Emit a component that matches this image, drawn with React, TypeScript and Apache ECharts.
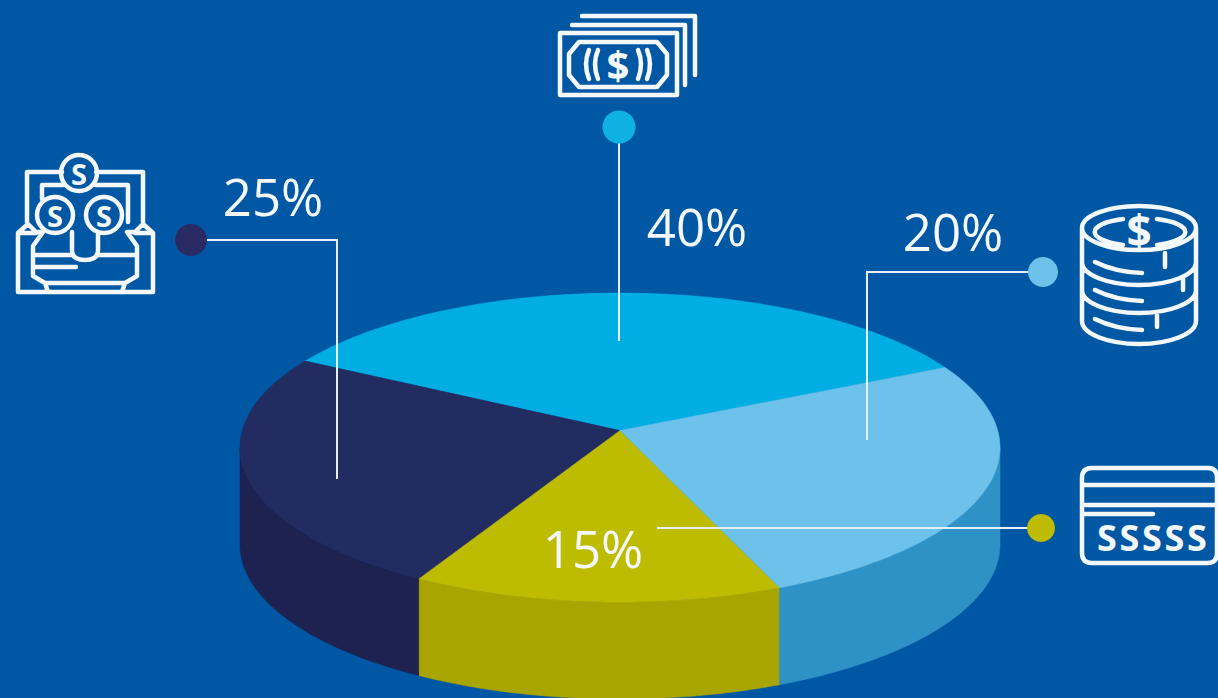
import React, { useEffect, useRef } from "react";
import * as echarts from "echarts";

// Percentages printed on the chart
const categories = ["Banknotes", "Treasure", "Card", "Coins"];
const labelTexts = ["40%", "25%", "15%", "20%"];
// Share of the disc each wedge occupies as drawn, percent
const drawnShares = [35, 24.9, 14.25, 25.85];
const startAngle = 25.5;

const topColors = ["#00AEE3", "#232C60", "#BEBC00", "#6CC2EA"];
const sideColors = ["#0090C0", "#1D2250", "#A9A500", "#2E92C6"];
const dotColors = ["#0FB0E2", "#2A2A64", "#BEBC00", "#6CC2EA"];

const BG = "#0058A4";
const WHITE = "#F4F8FC";
const FONT = '"Open Sans", sans-serif';

// Disc geometry
const CX = 620, CY = 447.5, RX = 380, RY = 154.5, DEPTH = 97, APEX = 0.11;

const rimAngle = (deg: number) => {
  const t = (deg * Math.PI) / 180;
  const dx = Math.cos(t), dy = Math.sin(t);
  const b = APEX * dy;
  const s = -b + Math.sqrt(b * b - APEX * APEX + 1);
  let phi = Math.atan2(APEX + s * dy, s * dx);
  while (phi < t - Math.PI) phi += Math.PI * 2;
  while (phi > t + Math.PI) phi -= Math.PI * 2;
  return phi;
};
const rimPoint = (phi: number, drop = 0): [number, number] => [
  CX + RX * Math.cos(phi),
  CY - RY * Math.sin(phi) + drop,
];

let acc = 0;
const sliceData = drawnShares.map((share, i) => {
  const item = { value: [acc, share], name: categories[i] };
  acc += share;
  return item;
});

const renderItem = (params: any, api: any) => {
  const i = params.dataIndex;
  const a0 = startAngle + (api.value(0) * 360) / 100;
  const a1 = a0 + (api.value(1) * 360) / 100;
  const p0 = rimAngle(a0);
  let p1 = rimAngle(a1);
  if (p1 < p0) p1 += Math.PI * 2;
  const toPx = (p: [number, number]) => api.coord(p);
  const N = 90;
  const rim: [number, number][] = [];
  for (let k = 0; k <= N; k++) rim.push(rimPoint(p0 + ((p1 - p0) * k) / N));
  const top = [[CX, CY - APEX * RY] as [number, number], ...rim].map(toPx);

  const children: any[] = [];
  const bands = [
    [Math.PI, 2 * Math.PI],
    [3 * Math.PI, 4 * Math.PI],
  ];
  bands.forEach(([lo, hi]) => {
    const w0 = Math.max(lo, p0), w1 = Math.min(hi, p1);
    if (w1 <= w0) return;
    const upper: [number, number][] = [];
    const lower: [number, number][] = [];
    for (let k = 0; k <= N; k++) {
      const phi = w0 + ((w1 - w0) * k) / N;
      upper.push(rimPoint(phi));
      lower.unshift(rimPoint(phi, DEPTH));
    }
    children.push({
      type: "polygon",
      shape: { points: [...upper, ...lower].map(toPx) },
      style: { fill: sideColors[i], stroke: sideColors[i], lineWidth: 0.5 },
    });
  });
  children.push({
    type: "polygon",
    shape: { points: top },
    style: { fill: topColors[i], stroke: topColors[i], lineWidth: 0.5 },
  });
  return { type: "group", children };
};

// Icons
const circle = (x: number, y: number, r: number) =>
  `M${x - r} ${y}a${r} ${r} 0 1 0 ${2 * r} 0a${r} ${r} 0 1 0 ${-2 * r} 0`;

const chestPath = [
  "M27 222V172H62M96 172H143V222",
  "M42 199V185H63M95 185H128V222",
  circle(79, 173, 18),
  circle(55, 215, 18),
  circle(104, 215, 18),
  "M18 292V233L28 224L36 232H43L33 246V276L45 283H125L137 276V246L127 232H135L143 224L153 233V292Z",
  "M18 233H36M135 233H153",
  "M72 232V250Q72 260 85 260Q98 260 98 250V232",
  "M34 255H72M98 255H136",
  "M34 267H76",
  "M45 283L48 292M125 283L122 292",
].join("");
const moneyPath = [
  "M560 33H677V95H560Z",
  "M579 42H657L667 54V75L657 87H579L569 75V54Z",
  "M572 25H685V85",
  "M582 16H695V75",
  "M589 50Q583 64 589 79M598 50Q592 64 598 79",
  "M638 50Q644 64 638 79M647 50Q653 64 647 79",
].join("");
const coinPath = [
  "M1082 228a57 22 0 1 0 114 0a57 22 0 1 0 -114 0",
  "M1082 228V321a57 23 0 0 0 114 0V228",
  "M1082 262a57 23 0 0 0 114 0",
  "M1082 290a57 23 0 0 0 114 0",
  "M1123 219A45 14 0 0 0 1123 245",
  "M1157 219A45 14 0 0 1 1157 245",
  "M1095 262Q1115 272 1142 273",
  "M1095 290Q1115 300 1142 301",
  "M1095 319Q1115 329 1142 330",
  "M1165 253V267M1183 278V290M1157 315V327",
].join("");
const cardPath = [
  "M1092 468H1208Q1217 468 1217 478V553Q1217 563 1208 563H1092Q1082 563 1082 553V478Q1082 468 1092 468Z",
  "M1082 485H1217M1082 505H1217M1082 514H1153",
].join("");

echarts.graphic.registerShape("chestIcon", echarts.graphic.extendPath(chestPath, {}));
echarts.graphic.registerShape("moneyIcon", echarts.graphic.extendPath(moneyPath, {}));
echarts.graphic.registerShape("coinIcon", echarts.graphic.extendPath(coinPath, {}));
echarts.graphic.registerShape("cardIcon", echarts.graphic.extendPath(cardPath, {}));

const icon = (type: string, lineWidth: number) => ({
  type,
  x: 0,
  y: 0,
  z: 10,
  style: { fill: "none", stroke: WHITE, lineWidth, lineJoin: "round", lineCap: "round" },
});
const txt = (text: string, x: number, y: number, size: number, weight = 400, fill = WHITE) => ({
  type: "text",
  x,
  y,
  z: 11,
  style: {
    text,
    fill,
    font: `${weight} ${size}px ${FONT}`,
    textAlign: "center",
    textVerticalAlign: "middle",
  },
});
const leader = (points: number[][]) => ({
  type: "polyline",
  z: 10,
  shape: { points },
  style: { fill: "none", stroke: "#E6EEF6", lineWidth: 2 },
});
const dot = (x: number, y: number, r: number, fill: string) => ({
  type: "circle",
  z: 10,
  shape: { cx: x, cy: y, r },
  style: { fill },
});

const cardLetterCenters = [1107, 1129.5, 1152, 1174.5, 1197];

const App = () => {
  const ref = useRef<HTMLDivElement>(null);
  useEffect(() => {
    document.body.style.margin = "0";
    document.body.style.overflow = "hidden";
    const chart = echarts.init(ref.current!, null, { renderer: "svg" });
    chart.setOption({
      animation: false,
      backgroundColor: BG,
      grid: { left: 0, right: 0, top: 0, bottom: 0 },
      xAxis: { type: "value", min: 0, max: 1218, show: false },
      yAxis: { type: "value", min: 0, max: 698, inverse: true, show: false },
      series: [
        { type: "custom", coordinateSystem: "cartesian2d", data: sliceData, renderItem, clip: false, silent: true },
      ],
      graphic: {
        elements: [
          leader([[619, 127], [619, 341]]),
          leader([[191, 240], [337, 240], [337, 479]]),
          leader([[1041, 528], [657, 528]]),
          leader([[1043, 272], [867, 272], [867, 440]]),
          dot(619, 127, 16.5, dotColors[0]),
          dot(191, 240, 16, dotColors[1]),
          dot(1041, 528, 14, dotColors[2]),
          dot(1043, 272, 15, dotColors[3]),
          txt(labelTexts[0], 697, 226, 51),
          txt(labelTexts[1], 273, 196, 51),
          txt(labelTexts[2], 593, 548, 51),
          txt(labelTexts[3], 953, 231, 51),
          icon("chestIcon", 4.5),
          icon("moneyIcon", 4.5),
          icon("coinIcon", 4.5),
          icon("cardIcon", 4.5),
          txt("S", 79, 173, 29, 700),
          txt("S", 55, 215, 29, 700),
          txt("S", 104, 215, 29, 700),
          txt("$", 618, 64, 40, 700),
          txt("$", 1139, 230, 44, 700),
          ...cardLetterCenters.map((x) => txt("S", x, 537, 36, 700)),
        ],
      },
    });
    return () => chart.dispose();
  }, []);
  return <div ref={ref} style={{ width: 1218, height: 698 }} />;
};

export default App;
